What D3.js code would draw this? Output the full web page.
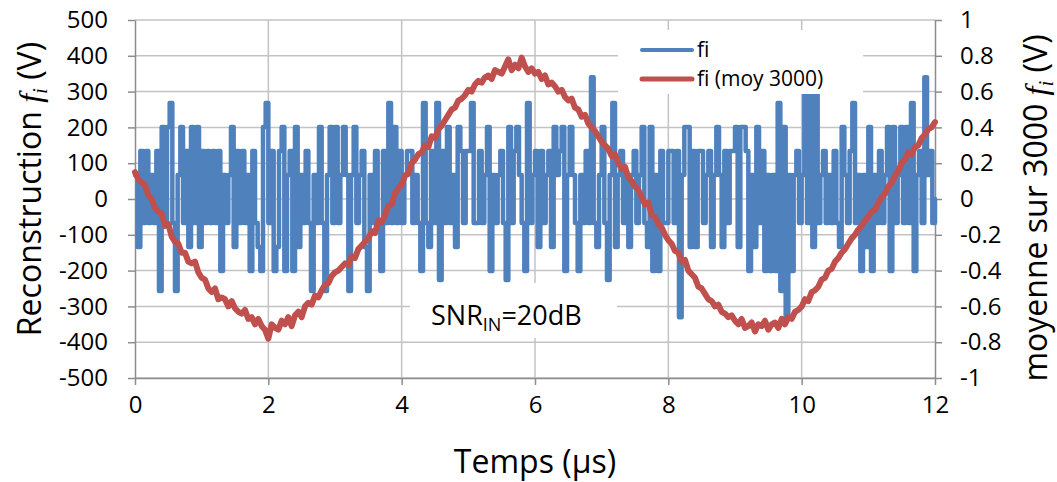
<!DOCTYPE html>
<html>
<head>
<meta charset="utf-8">
<script src="https://cdn.jsdelivr.net/npm/d3@7"></script>
<style>
  body { margin: 0; background: #fff; }
  svg text { font-family: 'Open Sans', 'Liberation Sans', sans-serif; fill: #000; }
</style>
</head>
<body>
<div id="chart"></div>
<script>
(function(d3) {
    'use strict'

    var width = 1057;
    var height = 482;

    // time step between samples (µs)
    var blueStep = 0.04;
    var redStep = 0.05;

    var xTicks = [0, 2, 4, 6, 8, 10, 12];
    var yTicks = [-500, -400, -300, -200, -100, 0, 100, 200, 300, 400, 500];
    var y2Ticks = [-1, -0.8, -0.6, -0.4, -0.2, 0, 0.2, 0.4, 0.6, 0.8, 1];

    // fi (V), left axis - one row per µs
    var fi = [
        67, -134, 134, -67, 134, -67, 67, -67, 134, -257, 201, -67, 201, 268, -67, -257, 67, 201, -67, 134, -134, 201, -67, 201, -134,
        134, -67, 134, -67, 134, -67, 134, -201, 67, -67, 67, 201, -134, 134, -67, 134, -67, 67, -201, 134, -67, -134, -201, 201, 268,
        -67, 134, -201, -134, 134, 201, -201, 67, 134, -201, 201, -134, 67, -67, 134, -67, -257, 67, -67, 201, -67, -257, 67, 201, -67,
        201, -67, 67, 201, 67, -257, 67, 201, -67, 67, 134, -134, -257, 67, -67, 134, -67, -201, 134, -67, 268, -67, 201, -67, 134,
        -67, 67, 134, 134, -67, 67, -67, -201, 268, -67, -134, 134, -67, 268, -226, 134, -67, 201, -67, 67, -134, 201, 134, -67, 134,
        134, 268, -67, -67, 134, -67, 67, 201, -201, 67, -67, 67, 134, -67, -226, 201, -67, 134, 201, 67, -67, -201, 268, -67, 67,
        134, -134, 134, -67, 67, 134, -134, 201, 67, 134, 201, -201, 67, 201, 67, -67, -201, 67, -67, 134, -67, 340, -67, -134, 67,
        201, -67, -226, 67, 268, -134, 67, 134, -67, 67, -134, 67, 134, -67, 67, 201, -67, -134, 201, -201, 67, -201, 134, -67, -67,
        134, 134, -67, 134, -330, 67, 201, 201, -134, 134, -134, 134, 134, -67, 67, 134, -134, 67, 201, 67, -134, 134, -67, 134, 134,
        201, -134, 201, 201, 134, -201, 67, -134, 201, -67, 134, -201, 67, -201, 67, -201, 268, -257, 201, -330, 67, -201, 67, 134, -67,
        67, 320, -67, 320, -134, 320, -67, 67, 134, -67, 67, -67, 134, -67, -134, 201, 67, -67, 134, 268, -67, 67, -201, 67, -134,
        201, -201, 67, -67, 134, -67, 67, 201, -201, 201, -67, 67, 201, -67, 201, -67, 268, -201, 67, 134, -67, 340, 67, 134, -67,
        0
    ];

    // fi (moy 3000) (V), right axis - one row per µs
    var fiMoy = [
        0.15, 0.11, 0.09, 0.08, 0.02, 0.00, -0.05, -0.07, -0.08, -0.15, -0.14, -0.21, -0.24, -0.25, -0.30, -0.30, -0.35, -0.36, -0.35, -0.41,
        -0.44, -0.45, -0.50, -0.52, -0.50, -0.56, -0.55, -0.56, -0.60, -0.57, -0.61, -0.63, -0.64, -0.62, -0.67, -0.66, -0.70, -0.67, -0.71, -0.73,
        -0.78, -0.70, -0.72, -0.73, -0.68, -0.70, -0.66, -0.71, -0.65, -0.63, -0.66, -0.60, -0.58, -0.59, -0.54, -0.55, -0.51, -0.48, -0.47, -0.43,
        -0.41, -0.40, -0.38, -0.36, -0.37, -0.32, -0.33, -0.28, -0.26, -0.24, -0.22, -0.18, -0.19, -0.12, -0.13, -0.09, -0.04, -0.03, 0.03, 0.06,
        0.08, 0.13, 0.14, 0.20, 0.22, 0.25, 0.26, 0.30, 0.29, 0.35, 0.34, 0.39, 0.41, 0.44, 0.47, 0.50, 0.51, 0.55, 0.56, 0.58,
        0.61, 0.60, 0.64, 0.66, 0.65, 0.68, 0.69, 0.67, 0.72, 0.71, 0.70, 0.74, 0.78, 0.72, 0.75, 0.73, 0.79, 0.74, 0.71, 0.73,
        0.70, 0.71, 0.67, 0.69, 0.64, 0.65, 0.63, 0.60, 0.61, 0.57, 0.55, 0.56, 0.51, 0.50, 0.46, 0.47, 0.42, 0.40, 0.38, 0.35,
        0.32, 0.30, 0.28, 0.24, 0.25, 0.20, 0.17, 0.18, 0.12, 0.10, 0.07, 0.05, 0.01, -0.03, -0.02, -0.09, -0.10, -0.14, -0.16, -0.20,
        -0.23, -0.25, -0.29, -0.30, -0.35, -0.34, -0.40, -0.42, -0.44, -0.49, -0.50, -0.53, -0.56, -0.57, -0.60, -0.59, -0.63, -0.64, -0.66, -0.65,
        -0.68, -0.70, -0.67, -0.72, -0.71, -0.69, -0.74, -0.70, -0.71, -0.68, -0.73, -0.70, -0.69, -0.72, -0.67, -0.70, -0.66, -0.67, -0.63, -0.62,
        -0.60, -0.56, -0.57, -0.52, -0.51, -0.49, -0.45, -0.44, -0.40, -0.39, -0.35, -0.33, -0.30, -0.28, -0.25, -0.22, -0.20, -0.17, -0.15, -0.12,
        -0.10, -0.07, -0.06, -0.02, 0.01, 0.03, 0.07, 0.09, 0.13, 0.16, 0.20, 0.22, 0.26, 0.25, 0.29, 0.30, 0.34, 0.36, 0.39, 0.40,
        0.43
    ];

    var blue = '#4f81bd';
    var red = '#c0504d';
    var gridColor = '#c3c3c3';
    var axisColor = '#8c8c8c';

    var plot = { left: 135, right: 935, top: 20, bottom: 378 };

    var x = d3.scaleLinear().domain([0, 12]).range([plot.left, plot.right]);
    var y = d3.scaleLinear().domain([-500, 500]).range([plot.bottom, plot.top]);
    var y2 = d3.scaleLinear().domain([-1, 1]).range([plot.bottom, plot.top]);

    // plain hyphen for negatives, like the original
    var fmt = function(d) { return String(+d.toFixed(1)); };

    var svg = d3.select('#chart')
        .append('svg')
        .attr('width', width)
        .attr('height', height);

    // grid
    svg.append('g')
        .selectAll('line')
        .data(yTicks)
        .enter()
        .append('line')
        .attr('x1', plot.left).attr('x2', plot.right)
        .attr('y1', function(d) { return y(d); })
        .attr('y2', function(d) { return y(d); })
        .attr('stroke', gridColor)
        .attr('stroke-width', 1.5);

    svg.append('g')
        .selectAll('line')
        .data(xTicks.slice(1, -1))
        .enter()
        .append('line')
        .attr('x1', function(d) { return x(d); })
        .attr('x2', function(d) { return x(d); })
        .attr('y1', plot.top).attr('y2', plot.bottom)
        .attr('stroke', gridColor)
        .attr('stroke-width', 1.5);

    // axes
    function styleAxis(g) {
        g.selectAll('path.domain').attr('stroke', axisColor).attr('stroke-width', 1.5);
        g.selectAll('.tick line').attr('stroke', axisColor).attr('stroke-width', 1.5);
        g.selectAll('.tick text')
            .attr('font-family', "'Open Sans', sans-serif")
            .attr('font-size', 24)
            .attr('fill', '#000');
    }

    svg.append('g')
        .attr('transform', 'translate(0,' + plot.bottom + ')')
        .call(d3.axisBottom(x).tickValues(xTicks).tickSize(7).tickSizeOuter(0).tickPadding(11).tickFormat(fmt))
        .call(styleAxis);

    svg.append('g')
        .attr('transform', 'translate(' + plot.left + ',0)')
        .call(d3.axisLeft(y).tickValues(yTicks).tickSize(7).tickSizeOuter(0).tickPadding(20).tickFormat(fmt))
        .call(styleAxis);

    svg.append('g')
        .attr('transform', 'translate(' + plot.right + ',0)')
        .call(d3.axisRight(y2).tickValues(y2Ticks).tickSize(7).tickSizeOuter(0).tickPadding(18).tickFormat(fmt))
        .call(styleAxis);

    // series
    var lineFi = d3.line()
        .curve(d3.curveStepAfter)
        .x(function(d, i) { return x(i * blueStep); })
        .y(function(d) { return y(d); });

    var lineMoy = d3.line()
        .x(function(d, i) { return x(i * redStep); })
        .y(function(d) { return y2(d); });

    svg.append('path')
        .datum(fi)
        .attr('d', lineFi)
        .attr('fill', 'none')
        .attr('stroke', blue)
        .attr('stroke-width', 4.5)
        .attr('stroke-linejoin', 'round')
        .attr('stroke-linecap', 'round');

    svg.append('path')
        .datum(fiMoy)
        .attr('d', lineMoy)
        .attr('fill', 'none')
        .attr('stroke', red)
        .attr('stroke-width', 6)
        .attr('stroke-linejoin', 'round')
        .attr('stroke-linecap', 'round');

    // legend
    var legend = svg.append('g');
    legend.append('rect')
        .attr('x', 618).attr('y', 30).attr('width', 245).attr('height', 64)
        .attr('fill', '#fff');
    var items = [{ label: 'fi', color: blue, w: 4, y: 50 }, { label: 'fi (moy 3000)', color: red, w: 5, y: 79 }];
    items.forEach(function(it) {
        legend.append('line')
            .attr('x1', 642).attr('x2', 692)
            .attr('y1', it.y).attr('y2', it.y)
            .attr('stroke', it.color).attr('stroke-width', it.w)
            .attr('stroke-linecap', 'round');
        legend.append('text')
            .attr('x', 697).attr('y', it.y + 7)
            .attr('font-size', 21)
            .text(it.label);
    });

    // annotation
    svg.append('rect')
        .attr('x', 410).attr('y', 283).attr('width', 207).attr('height', 55)
        .attr('fill', '#fff');
    var snr = svg.append('text')
        .attr('x', 431).attr('y', 325)
        .attr('font-size', 27);
    snr.append('tspan').text('SNR');
    snr.append('tspan').attr('font-size', 18).attr('dy', 6).text('IN');
    snr.append('tspan').attr('dy', -6).text('=20dB');

    // axis titles
    var t1 = svg.append('text')
        .attr('transform', 'translate(41,189) rotate(-90)')
        .attr('text-anchor', 'middle')
        .attr('font-size', 32);
    t1.append('tspan').text('Reconstruction ');
    t1.append('tspan').attr('font-family', "'Liberation Serif', serif").attr('font-style', 'italic').text('f');
    t1.append('tspan').attr('font-family', "'Liberation Serif', serif").attr('font-style', 'italic')
        .attr('font-size', 21).attr('dy', 6).text('i');
    t1.append('tspan').attr('dy', -6).text(' (V)');

    var t2 = svg.append('text')
        .attr('transform', 'translate(1047,208) rotate(-90)')
        .attr('text-anchor', 'middle')
        .attr('font-size', 32);
    t2.append('tspan').text('moyenne sur 3000 ');
    t2.append('tspan').attr('font-family', "'Liberation Serif', serif").attr('font-style', 'italic').text('f');
    t2.append('tspan').attr('font-family', "'Liberation Serif', serif").attr('font-style', 'italic')
        .attr('font-size', 21).attr('dy', 6).text('i');
    t2.append('tspan').attr('dy', -6).text(' (V)');

    svg.append('text')
        .attr('x', 535).attr('y', 473)
        .attr('text-anchor', 'middle')
        .attr('font-size', 32)
        .text('Temps (µs)');

})(window.d3);
</script>
</body>
</html>
